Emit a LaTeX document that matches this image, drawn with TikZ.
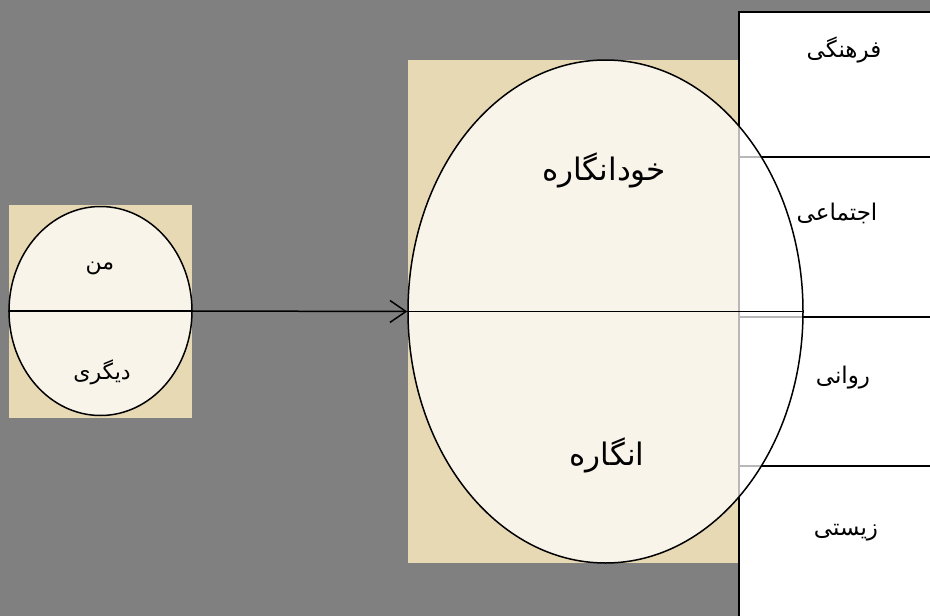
\documentclass[tikz,border=0pt]{standalone}
\usepackage{fontspec}
\newfontfamily\arabicfont[Script=Arabic]{DejaVu Sans}
\TeXXeTstate=1
\usetikzlibrary{shapes.geometric,arrows.meta}
\definecolor{bggray}{HTML}{808080}
\definecolor{parchment}{HTML}{E8D9B5}

\begin{document}
\begin{tikzpicture}[
x=1pt, y=-1pt,
paper/.style={fill=parchment, draw=none},
egg/.style={ellipse, draw, line width=1.5pt, fill=white, fill opacity=0.72, draw opacity=1, text opacity=1, inner sep=0pt},
cell/.style={draw, line width=1.5pt},
fa/.style={font=\arabicfont\fontsize{#1}{#1}\selectfont, text=black, inner sep=0pt}
]

% background and paper
\fill[bggray] (0,0) rectangle (930,616);
\useasboundingbox (0,0) rectangle (930,616);
\fill[paper] (9,205) rectangle (192,418);
\fill[paper] (408,60) rectangle (740,563);

% table on the right
\draw[cell, fill=white] (739,12) rectangle (940,626);
\draw[cell] (739,157) -- (935,157);
\draw[cell] (739,317) -- (935,317);
\draw[cell] (739,466) -- (935,466);

\node[fa=23] (farhangi) at (844,50) {\beginR فرهنگی\endR};
\node[fa=23] (ejtemai) at (837,213) {\beginR اجتماعی\endR};
\node[fa=23] (ravani) at (843,378) {\beginR روانی\endR};
\node[fa=23] (zisti) at (846,533) {\beginR زیستی\endR};

% the two eggs
\node[egg, minimum width=183pt, minimum height=209pt] (small) at (100.5,311) {};
\node[egg, minimum width=395pt, minimum height=503pt] (big) at (605.5,311.5) {};

\draw[line width=1.5pt] (small.west) -- (small.east);
\draw[line width=1.5pt] (big.west) -- (big.east);
\draw[line width=1.5pt, -{Straight Barb[length=16pt,width=22pt]}] (small.east) -- (big.west);

\node[fa=22] (man) at (100,268) {\beginR من\endR};
\node[fa=22] (digari) at (102,372) {\beginR دیگری\endR};
\node[fa=31] (khodengare) at (604,170) {\beginR خودانگاره\endR};
\node[fa=31] (engare) at (607,455) {\beginR انگاره\endR};
\end{tikzpicture}
\end{document}
